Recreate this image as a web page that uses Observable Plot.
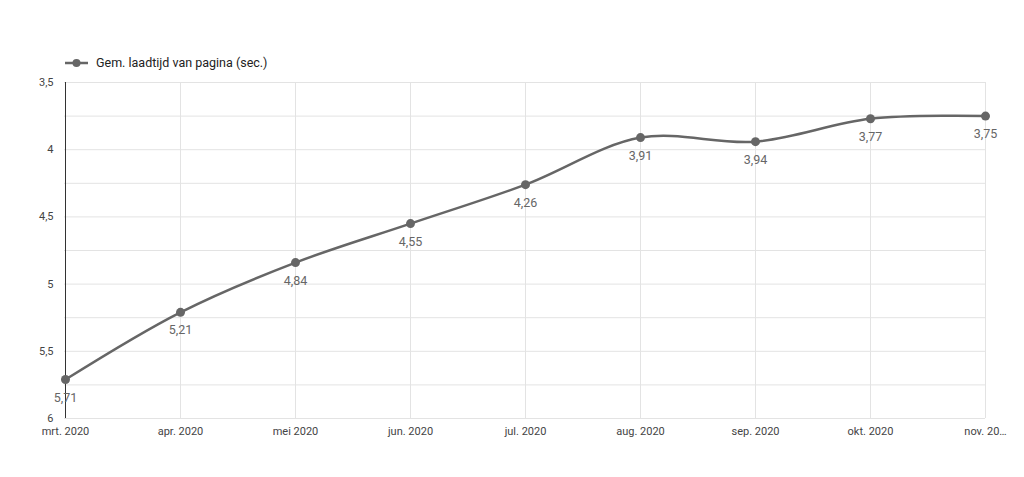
<!DOCTYPE html>
<html>
<head>
<meta charset="utf-8">
<script src="https://cdn.jsdelivr.net/npm/d3@7"></script>
<script src="https://cdn.jsdelivr.net/npm/@observablehq/plot@0.6"></script>
<style>
  body { margin: 0; background: #fff; font-family: Roboto, "Noto Sans", sans-serif; }
  #wrap { position: relative; width: 1024px; height: 477px; }
  #legend { position: absolute; left: 64px; top: 55px; display: flex; align-items: center; font-size: 12.5px; color: #222; }
  #legend svg { margin-right: 7px; }
  #chart { position: absolute; left: 0; top: 70px; }
</style>
</head>
<body>
<div id="wrap">
  <div id="legend"><svg width="25" height="10"><line x1="1" y1="5" x2="24" y2="5" stroke="#666" stroke-width="2.5"/><circle cx="12.5" cy="5" r="4" fill="#666"/></svg><span>Gem. laadtijd van pagina (sec.)</span></div>
  <div id="chart"></div>
</div>
<script>
const months = ["mrt. 2020", "apr. 2020", "mei 2020", "jun. 2020", "jul. 2020", "aug. 2020", "sep. 2020", "okt. 2020", "nov. 20…"];
const values = [5.71, 5.21, 4.84, 4.55, 4.26, 3.91, 3.94, 3.77, 3.75];
const yTicks = [3.5, 4, 4.5, 5, 5.5, 6];
const yGrid = [3.5, 3.75, 4, 4.25, 4.5, 4.75, 5, 5.25, 5.5, 5.75, 6];
const seriesName = "Gem. laadtijd van pagina (sec.)";

const data = months.map((m, i) => ({month: m, value: values[i]}));
const fmt = v => String(v).replace(".", ",");
const lineColor = "#666666";

const chart = Plot.plot({
  width: 1024,
  height: 407,
  marginTop: 12,
  marginBottom: 59,
  marginLeft: 64,
  marginRight: 39,
  style: {fontFamily: "Roboto, 'Noto Sans', sans-serif", fontSize: "11px", color: "#444", background: "#fff"},
  x: {type: "point", domain: months, padding: 0, label: null, tickSize: 0, tickPadding: 9},
  y: {domain: [3.5, 6], reverse: true, ticks: yTicks, tickFormat: fmt, label: null, tickSize: 0, tickPadding: 11},
  marks: [
    Plot.ruleY(yGrid, {stroke: "#e3e3e3", strokeOpacity: 1}),
    Plot.ruleX(months, {stroke: "#e3e3e3", strokeOpacity: 1}),
    Plot.ruleX([months[0]], {stroke: "#333", strokeWidth: 1}),
    Plot.line(data, {x: "month", y: "value", stroke: lineColor, strokeWidth: 2.5, curve: "catmull-rom"}),
    Plot.dot(data, {x: "month", y: "value", fill: lineColor, r: 4.5}),
    Plot.text(data, {x: "month", y: "value", text: d => fmt(d.value), dy: 18, fill: "#666", fontSize: 12.5})
  ]
});
document.getElementById("chart").appendChild(chart);
</script>
</body>
</html>
